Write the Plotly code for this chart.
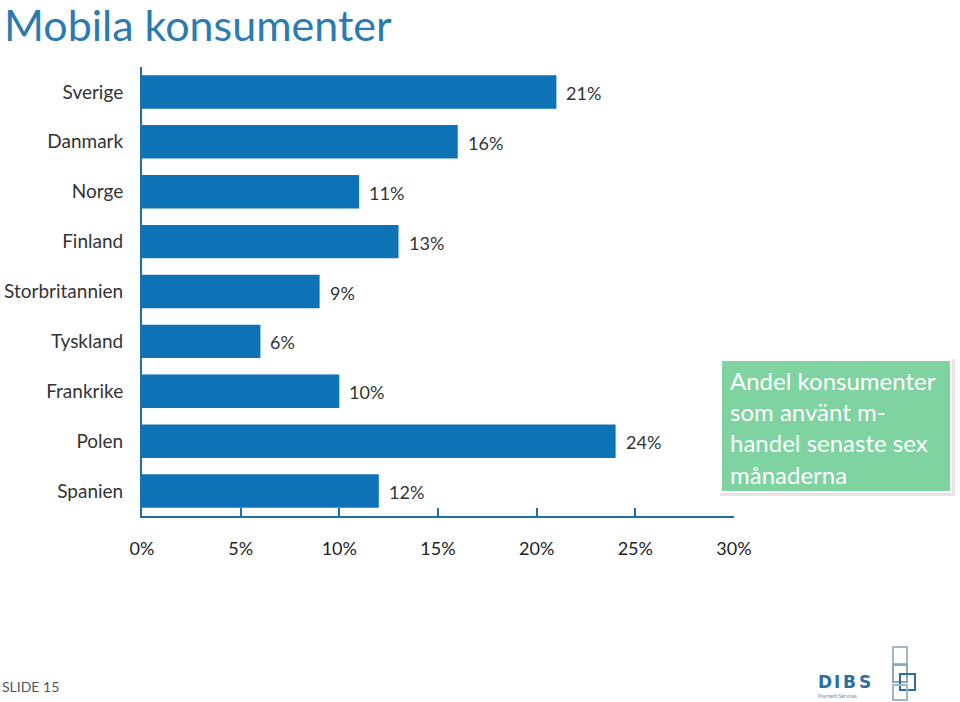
import plotly.graph_objects as go

countries = ["Sverige", "Danmark", "Norge", "Finland", "Storbritannien",
             "Tyskland", "Frankrike", "Polen", "Spanien"]
values = [21, 16, 11, 13, 9, 6, 10, 24, 12]
x_ticks = [0, 5, 10, 15, 20, 25, 30]
x_tick_labels = ["0%", "5%", "10%", "15%", "20%", "25%", "30%"]

FONT = "Lato, 'Open Sans', sans-serif"
BLUE = "#0e72b6"
AXIS = "#1f6ea6"

L, T, PW, PH = 142, 67, 592, 449

fig = go.Figure()
fig.add_trace(go.Bar(
    y=countries, x=values, orientation="h",
    marker=dict(color=BLUE, line=dict(width=0)),
    hoverinfo="skip", showlegend=False,
))

for c, v in zip(countries, values):
    fig.add_annotation(x=v, y=c, xref="x", yref="y", text=f"{v}%",
                       showarrow=False, xanchor="left", xshift=8, yshift=-1,
                       font=dict(family=FONT, size=18, color="#333333"))

fig.update_layout(
    width=960, height=702,
    paper_bgcolor="white", plot_bgcolor="white",
    margin=dict(l=L, r=960 - L - PW, t=T, b=702 - T - PH),
    bargap=0.33,
    xaxis=dict(range=[0, 30], tickvals=x_ticks, ticktext=x_tick_labels,
               showgrid=False, zeroline=False, automargin=False,
               showline=True, linecolor=AXIS, linewidth=2,
               ticks="inside", ticklen=8, tickwidth=2, tickcolor=AXIS,
               ticklabelstandoff=15,
               tickfont=dict(family=FONT, size=18, color="#222222")),
    yaxis=dict(autorange="reversed", showgrid=False, zeroline=False, automargin=False,
               showline=True, linecolor=AXIS, linewidth=2,
               ticks="", ticklabelstandoff=13,
               tickfont=dict(family=FONT, size=19, color="#333333")),
)


def px_x(p):
    return (p - L) / PW


def px_y(p):
    return (T + PH - p) / PH


# title
fig.add_annotation(xref="paper", yref="paper", x=px_x(2), y=px_y(-3),
                   xanchor="left", yanchor="top",
                   text="Mobila konsumenter", showarrow=False,
                   font=dict(family=FONT, size=43, color="#2b7bb0"))

# green info box with shadow
fig.add_shape(type="rect", xref="paper", yref="paper",
              x0=px_x(720), x1=px_x(955), y0=px_y(496), y1=px_y(359),
              fillcolor="rgba(0,0,0,0.10)", line=dict(width=0), layer="below")
fig.add_shape(type="rect", xref="paper", yref="paper",
              x0=px_x(721), x1=px_x(951), y0=px_y(492), y1=px_y(360),
              fillcolor="#7ed3a1", line=dict(color="white", width=2))
fig.add_annotation(xref="paper", yref="paper", x=px_x(728), y=px_y(364),
                   xanchor="left", yanchor="top", align="left", showarrow=False,
                   text="Andel konsumenter<br>som använt m-<br>handel senaste sex<br>månaderna",
                   font=dict(family=FONT, size=24, color="white"))

# slide number
fig.add_annotation(xref="paper", yref="paper", x=px_x(0), y=px_y(686),
                   xanchor="left", yanchor="middle", showarrow=False,
                   text="SLIDE 15", font=dict(family=FONT, size=14, color="#555555"))

# DIBS logo (wide wordmark: letters placed individually)
for letter, cx in [("D", 825), ("I", 837), ("B", 849), ("S", 865)]:
    fig.add_annotation(xref="paper", yref="paper", x=px_x(cx), y=px_y(682),
                       xanchor="center", yanchor="middle", showarrow=False,
                       text=f"<b>{letter}</b>",
                       font=dict(family="DejaVu Sans", size=17, color="#2d6f9e"))
fig.add_annotation(xref="paper", yref="paper", x=px_x(816), y=px_y(696),
                   xanchor="left", yanchor="middle", showarrow=False,
                   text="Payment Services", font=dict(family=FONT, size=5, color="#5a8fb5"))
for (x0, y0, x1, y1, col) in [(893, 647, 907, 664, "#9fb8c8"), (893, 665, 907, 682, "#8aa9bd"),
                              (900, 674, 915, 690, "#2d6f9e"), (893, 685, 907, 700, "#9fb8c8")]:
    fig.add_shape(type="rect", xref="paper", yref="paper",
                  x0=px_x(x0), x1=px_x(x1), y0=px_y(y1), y1=px_y(y0),
                  line=dict(color=col, width=2), fillcolor="rgba(0,0,0,0)")

fig.write_html("out.html", config={"displayModeBar": False},
               post_script="document.body.style.margin='0';")
